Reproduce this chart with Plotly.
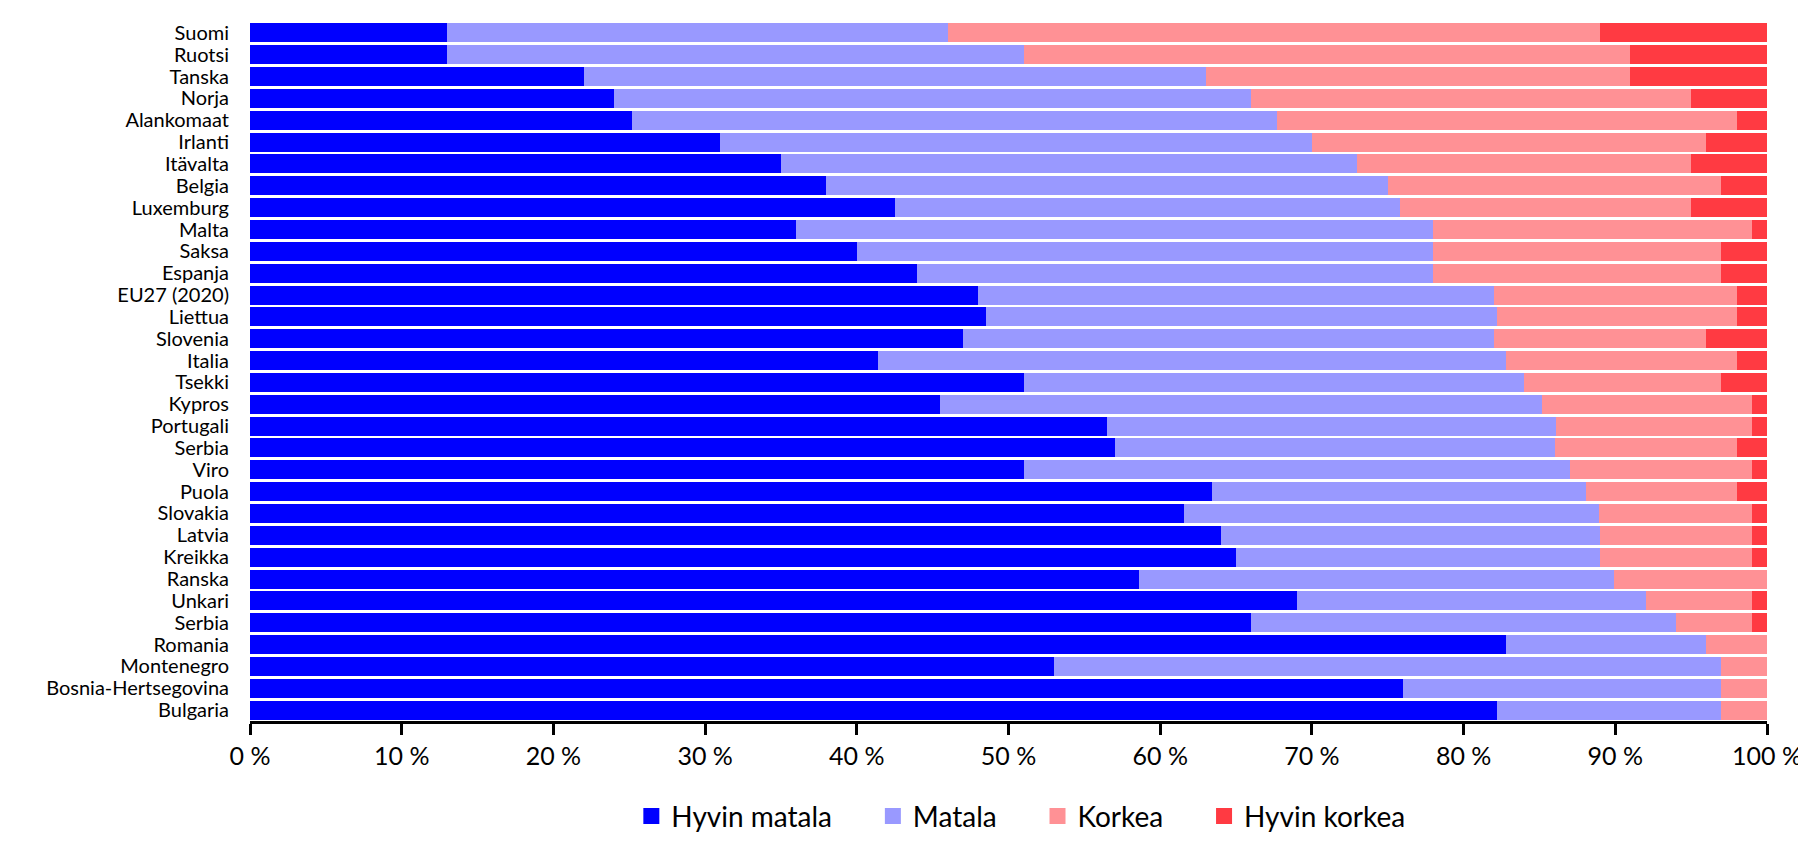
import plotly.graph_objects as go

countries = ["Suomi", "Ruotsi", "Tanska", "Norja", "Alankomaat", "Irlanti", "Itävalta",
             "Belgia", "Luxemburg", "Malta", "Saksa", "Espanja", "EU27 (2020)", "Liettua",
             "Slovenia", "Italia", "Tsekki", "Kypros", "Portugali", "Serbia", "Viro", "Puola",
             "Slovakia", "Latvia", "Kreikka", "Ranska", "Unkari", "Serbia", "Romania",
             "Montenegro", "Bosnia-Hertsegovina", "Bulgaria"]

hyvin_matala = [13, 13, 22, 24, 25.2, 31, 35, 38, 42.5, 36, 40, 44, 48, 48.5, 47, 41.4, 51,
                45.5, 56.5, 57, 51, 63.4, 61.6, 64, 65, 58.6, 69, 66, 82.8, 53, 76, 82.2]
matala = [33, 38, 41, 42, 42.5, 39, 38, 37, 33.3, 42, 38, 34, 34, 33.7, 35, 41.4, 33,
          39.7, 29.6, 29, 36, 24.7, 27.3, 25, 24, 31.3, 23, 28, 13.2, 44, 21, 14.8]
korkea = [43, 40, 28, 29, 30.3, 26, 22, 22, 19.2, 21, 19, 19, 16, 15.8, 14, 15.2, 13,
          13.8, 12.9, 12, 12, 9.9, 10.1, 10, 10, 10.1, 7, 5, 4, 3, 3, 3]
hyvin_korkea = [11, 9, 9, 5, 2, 4, 5, 3, 5, 1, 3, 3, 2, 2, 4, 2, 3,
                1, 1, 2, 1, 2, 1, 1, 1, 0, 1, 1, 0, 0, 0, 0]

series = [
    ("Hyvin matala", hyvin_matala, "#0000FF"),
    ("Matala", matala, "#9999FF"),
    ("Korkea", korkea, "#FF9195"),
    ("Hyvin korkea", hyvin_korkea, "#FF3A42"),
]

positions = list(range(len(countries)))
FONT = "Lato, Open Sans, sans-serif"
PAD = "\u00a0" * 5

fig = go.Figure()
for name, vals, color in series:
    fig.add_trace(go.Bar(
        name=name, x=vals, y=positions, orientation="h",
        marker=dict(color=color, line=dict(width=0)),
        hovertemplate="%{x} %<extra>" + name + "</extra>",
        showlegend=False,
    ))
# legend entries with larger square swatches
for name, vals, color in series:
    fig.add_trace(go.Scatter(
        name=name + PAD, x=[None], y=[None], mode="markers",
        marker=dict(symbol="square", size=24, color=color),
        showlegend=True, hoverinfo="skip",
    ))

fig.update_layout(
    barmode="stack",
    bargap=0.13,
    width=1806, height=845,
    margin=dict(l=242, r=43, t=12, b=125),
    paper_bgcolor="white", plot_bgcolor="white",
    font=dict(family=FONT, color="black", size=20),
    showlegend=True,
    legend=dict(orientation="h", x=0.52, xanchor="center", y=-0.172, yanchor="bottom",
                font=dict(size=28, family=FONT, color="black"), itemwidth=30,
                traceorder="normal", tracegroupgap=0),
)
fig.update_xaxes(
    range=[0, 100], dtick=10, tick0=0, ticksuffix=" %",
    showgrid=False, zeroline=False,
    showline=True, linecolor="black", linewidth=3,
    ticks="outside", ticklen=11, tickwidth=3, tickcolor="black",
    tickfont=dict(size=25, family=FONT, color="black"),
)
fig.update_yaxes(
    tickmode="array", tickvals=positions, ticktext=countries,
    showgrid=False, zeroline=False, showline=False,
    ticks="", ticklabelstandoff=20,
    tickfont=dict(size=20, family=FONT, color="black"),
    range=[len(countries) - 0.5, -0.5],
)

fig.write_html("out.html")
